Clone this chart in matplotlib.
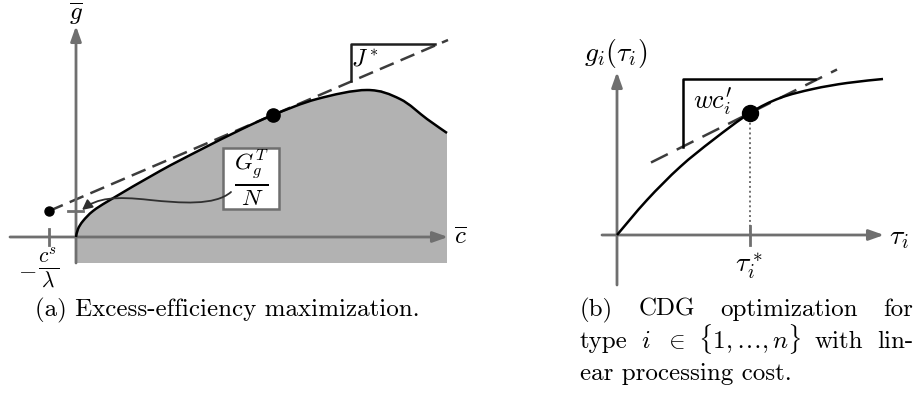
import numpy as np
import matplotlib
matplotlib.use("Agg")
import matplotlib.pyplot as plt
from matplotlib.path import Path
from matplotlib.patches import PathPatch, FancyArrowPatch, Rectangle, Polygon

plt.rcParams['mathtext.fontset'] = 'cm'

# ---- panel (a): frontier of (c, g) pairs, in figure pixels ----
frontier_x = [76, 78, 83, 93, 110, 160, 200, 240, 273, 317, 367, 400, 427, 447]
frontier_y = [237, 229, 221, 211, 200, 171, 150, 130, 115, 99, 90, 99, 119, 133]
opt_a = (273, 115)          # tangency point
intercept_a = (49, 211)     # -c^s / lambda on the dashed line
dash_a_end_x = 448

# ---- panel (b): concave benefit curve ----
gain_x = [617, 647, 680, 713, 750, 780, 813, 847, 883]
gain_y = [235, 200, 167, 140, 113, 98, 89, 83, 79]
opt_b = (750, 113)
slope_b = -0.5
dash_b_x = [651, 837]

GRAY = '#6f6f6f'
FILL = '#b2b2b2'
DASH = '#3c3c3c'


def smooth_path(xs, ys, tension=1.0 / 6):
    """Catmull-Rom through the given nodes, emitted as cubic Bezier codes."""
    p = np.column_stack([xs, ys]).astype(float)
    n = len(p)
    verts = [p[0]]
    codes = [Path.MOVETO]
    for i in range(n - 1):
        p0 = p[i - 1] if i > 0 else p[i]
        p1, p2 = p[i], p[i + 1]
        p3 = p[i + 2] if i + 2 < n else p[i + 1]
        c1 = p1 + (p2 - p0) * tension
        c2 = p2 - (p3 - p1) * tension
        verts += [c1, c2, p2]
        codes += [Path.CURVE4] * 3
    return Path(np.array(verts), codes)


def axis_arrow(ax, start, tip):
    ax.annotate('', xy=tip, xytext=start,
                arrowprops=dict(arrowstyle='-|>,head_length=0.9,head_width=0.32',
                                color=GRAY, lw=2.0, shrinkA=0, shrinkB=0),
                zorder=3)


fig = plt.figure(figsize=(9.17, 3.93), dpi=100)
ax = fig.add_axes([0, 0, 1, 1])
ax.set_xlim(0, 917)
ax.set_ylim(393, 0)
ax.axis('off')

# ================= panel (a) =================
fp = smooth_path(frontier_x, frontier_y)
fverts = fp.interpolated(20).vertices
poly = np.vstack([fverts, [[frontier_x[-1], 263], [frontier_x[0], 263]]])
ax.add_patch(Polygon(poly, closed=True, facecolor=FILL, edgecolor='none', zorder=1))

# axes
axis_arrow(ax, (10, 237), (448, 237))
axis_arrow(ax, (76, 263), (76, 26))
ax.text(76, 14, r'$\overline{g}$', fontsize=18, ha='center', va='center')
ax.text(454, 237, r'$\overline{c}$', fontsize=18, ha='left', va='center')

# ticks
ax.plot([intercept_a[0]] * 2, [229, 245], color=GRAY, lw=2, zorder=3)
ax.plot([68, 83], [intercept_a[1]] * 2, color=GRAY, lw=2, zorder=3)
ax.text(27, 269, r'$-$', fontsize=17, ha='center', va='center')
ax.text(49, 268, r'$\frac{c^s}{\lambda}$', fontsize=22, ha='center', va='center')

# tangent line
slope_a = (opt_a[1] - intercept_a[1]) / (opt_a[0] - intercept_a[0])
xa = np.array([intercept_a[0], dash_a_end_x])
ax.plot(xa, intercept_a[1] + slope_a * (xa - intercept_a[0]), ls=(0, (6, 3)),
        color=DASH, lw=1.8, zorder=2)

# frontier
ax.add_patch(PathPatch(fp, facecolor='none', edgecolor='black', lw=1.8, zorder=4))
ax.plot(*opt_a, 'o', color='black', ms=9.5, zorder=5)
ax.plot(*intercept_a, 'o', color='black', ms=6.5, zorder=5)

# slope marker J*
ax.plot([351, 351, 435], [81, 44, 44], color='#202020', lw=1.8, zorder=3)
ax.text(365, 58, r'$J^*$', fontsize=17, ha='center', va='center')

# annotation box
ax.add_patch(Rectangle((223, 148), 56, 61, facecolor='white', edgecolor=GRAY,
                       lw=1.8, zorder=5))
ax.text(251, 178, r'$\frac{G_g^T}{N}$', fontsize=24, ha='center', va='center', zorder=6)
wig = Path([(231, 192), (215, 206), (180, 203), (150, 200),
            (115, 196), (97, 198), (82, 210)],
           [Path.MOVETO, Path.CURVE4, Path.CURVE4, Path.CURVE4,
            Path.CURVE4, Path.CURVE4, Path.CURVE4])
ax.add_patch(FancyArrowPatch(path=wig, arrowstyle='-|>,head_length=6,head_width=3',
                             color='#303030', lw=1.3, zorder=6))

# ================= panel (b) =================
axis_arrow(ax, (602, 235), (884, 235))
axis_arrow(ax, (617, 285), (617, 72))
ax.text(616, 53, r'$g_i(\tau_i)$', fontsize=20, ha='center', va='center')
ax.text(889, 237, r'$\tau_i$', fontsize=20, ha='left', va='center')

ax.plot([opt_b[0]] * 2, [opt_b[1], 235], ls=(0, (1, 1.5)), color=GRAY, lw=1.4, zorder=2)
ax.plot([opt_b[0]] * 2, [226, 245], color=GRAY, lw=2, zorder=3)
ax.text(749, 266, r'$\tau_i^*$', fontsize=20, ha='center', va='center')

xb = np.array(dash_b_x)
ax.plot(xb, opt_b[1] + slope_b * (xb - opt_b[0]), ls=(0, (7.5, 4)),
        color=DASH, lw=1.8, zorder=2)
ax.add_patch(PathPatch(smooth_path(gain_x, gain_y), facecolor='none',
                       edgecolor='black', lw=1.8, zorder=4))
ax.plot(*opt_b, 'o', color='black', ms=11.5, zorder=5)

ax.plot([683, 683, 815], [147, 79, 79], color='black', lw=1.8, zorder=3)
ax.text(712, 102, r"$wc_i'$", fontsize=19, ha='center', va='center')

# ================= captions =================
CAP = dict(fontsize=18, family='cmr10', va='baseline')
ax.text(35, 316, '(a) Excess-efficiency maximization.', ha='left', **CAP)

fig.canvas.draw()
renderer = fig.canvas.get_renderer()
inv = ax.transData.inverted()


def justify(words, x0, x1, y):
    arts = [ax.text(0, y, w, ha='left', **CAP) for w in words]
    widths = []
    for a in arts:
        bb = a.get_window_extent(renderer)
        widths.append(inv.transform((bb.x1, 0))[0] - inv.transform((bb.x0, 0))[0])
    gap = (x1 - x0 - sum(widths)) / (len(words) - 1)
    x = x0
    for a, w in zip(arts, widths):
        a.set_x(x)
        x += w + gap


justify(['(b)', 'CDG', 'optimization', 'for'], 580, 913, 316)
justify(['type', r'$i$', r'$\in$', r'$\{1,\ldots,n\}$', 'with', 'lin-'], 580, 913, 348)
ax.text(580, 380, 'ear processing cost.', ha='left', **CAP)

fig.savefig('out.png', dpi=100)
